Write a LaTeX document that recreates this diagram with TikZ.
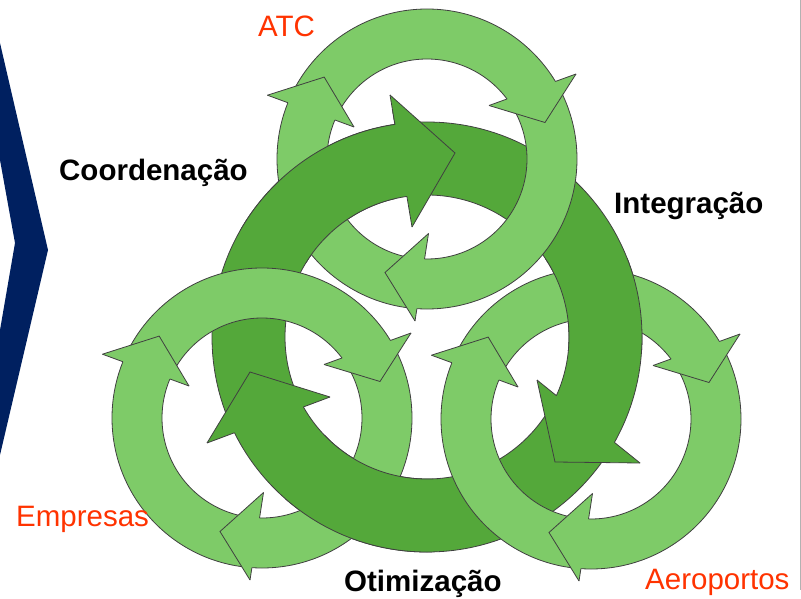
\documentclass[tikz,border=0pt]{standalone}
\usepackage{fontspec}
\setmainfont{Liberation Sans}
\definecolor{lg}{HTML}{7ECB68}
\definecolor{dg}{HTML}{54A83A}
\definecolor{edgec}{HTML}{404040}
\definecolor{navyc}{HTML}{002060}
\definecolor{orng}{HTML}{FF3300}
\tikzset{
  edgeline/.style={draw=edgec, line width=0.8pt, line join=miter},
  lbl/.style={anchor=base west, inner sep=0pt},
  orangelbl/.style={lbl, text=orng, font=\fontsize{29.5}{31}\selectfont},
  boldlbl/.style={lbl, text=black, font=\fontsize{29.5}{31}\selectfont\bfseries},
}
% #1 outer radius, #2 inner radius, #3 outer barb, #4 tip, #5 inner barb, #6 colour
\newcommand\ringhead[6]{%
  \fill[#6] (#3) -- (#4) -- (#5) -- cycle;
  \draw[edgeline] (#3) -- (#4) -- (#5);
  \begin{scope}[even odd rule]
    \clip (-500,-500) rectangle (500,500)
      (0,0) circle[radius=#1pt] (0,0) circle[radius=#2pt];
    \draw[edgeline] (#3) -- (#5);
  \end{scope}}
\newcommand\ringbody[3]{%
  \fill[#3, even odd rule] (0,0) circle[radius=#1pt] (0,0) circle[radius=#2pt];
  \draw[edgeline] (0,0) circle[radius=#1pt] (0,0) circle[radius=#2pt];}
\newcommand\darkring{%
  \begin{scope}[shift={(427,337)}]
    \ringbody{215}{142}{dg}
    \ringhead{215}{142}{-37,-242}{28,-184}{-15,-110}{dg}
    \ringhead{215}{142}{213,126}{128,125}{110,43}{dg}
    \ringhead{215}{142}{-220,106}{-177,35}{-97,60}{dg}
  \end{scope}}
\newcommand\lightring[2]{%
  \begin{scope}[shift={(#1,#2)}]
    \ringbody{150}{100}{lg}
    \ringhead{150}{100}{-159.6,-63.8}{-102.8,-81.9}{-73,-32}{lg}
    \ringhead{150}{100}{149,-85}{118,-36.5}{62,-53.5}{lg}
    \ringhead{150}{100}{-12,162}{-42,113.5}{1.5,74.5}{lg}
  \end{scope}}
\begin{document}
\begin{tikzpicture}[x=1pt,y=-1pt]
\useasboundingbox (0,0) rectangle (801,599);
\fill[white] (0,0) rectangle (801,599);
% chevron
\fill[navyc] (0,43) -- (48,250) -- (0,455) -- (0,330) -- (15,243) -- (0,160) -- cycle;
% big ring
\darkring
% small rings
\lightring{427}{159}
\lightring{262}{418}
\lightring{591}{419}
% dark over light at the interlocking crossings
\begin{scope}\clip (240,110) rectangle (395,262); \darkring \end{scope}
\begin{scope}\clip (285,435) rectangle (432,565); \darkring \end{scope}
\begin{scope}\clip (545,258) rectangle (700,350); \darkring \end{scope}
% slide edge
\draw[gray!60, line width=0.8pt] (800.4,0) -- (800.4,590);
% labels
\node[orangelbl] (atc) at (258,37) {ATC};
\node[orangelbl] (emp) at (16,526) {Empresas};
\node[orangelbl] (aer) at (645,589) {Aeroportos};
\node[boldlbl] (coord) at (59,181) {Coordenação};
\node[boldlbl] (integ) at (614,213) {Integração};
\node[boldlbl] (otim) at (344,591) {Otimização};
\end{tikzpicture}
\end{document}
